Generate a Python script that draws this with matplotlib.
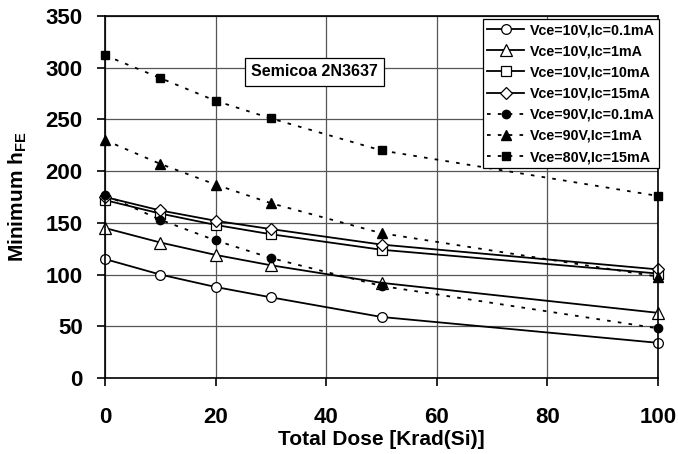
import matplotlib
matplotlib.use("Agg")
import matplotlib.pyplot as plt

plt.rcParams['font.family'] = ['Liberation Sans', 'DejaVu Sans']
plt.rcParams['mathtext.fontset'] = 'custom'
plt.rcParams['mathtext.bf'] = 'Liberation Sans:bold'
plt.rcParams['mathtext.rm'] = 'Liberation Sans:bold'

dose = [0, 10, 20, 30, 50, 100]
labels = ["Vce=10V,Ic=0.1mA", "Vce=10V,Ic=1mA", "Vce=10V,Ic=10mA", "Vce=10V,Ic=15mA",
          "Vce=90V,Ic=0.1mA", "Vce=90V,Ic=1mA", "Vce=80V,Ic=15mA"]
v10_01 = [115, 100, 88, 78, 59, 34]
v10_1 = [145, 131, 119, 109, 92, 63]
v10_10 = [172, 159, 148, 139, 124, 101]
v10_15 = [175, 162, 152, 144, 129, 105]
v90_01 = [177, 153, 133, 116, 89, 48]
v90_1 = [230, 207, 187, 169, 140, 98]
v80_15 = [312, 290, 268, 251, 220, 176]
series = [v10_01, v10_1, v10_10, v10_15, v90_01, v90_1, v80_15]
markers = ['o', '^', 's', 'D', 'o', '^', 's']
filled = [False, False, False, False, True, True, True]
sizes = [7, 8, 7, 6, 6, 7, 6]

fig = plt.figure(figsize=(6.78, 4.54), dpi=100)
ax = fig.add_axes([105 / 678, 1 - 378 / 454, 553 / 678, 362 / 454])

for y, lab, m, f, s in zip(series, labels, markers, filled, sizes):
    if f:
        ax.plot(dose, y, color='black', linestyle=(0, (2, 4)), linewidth=1.3,
                marker=m, markersize=s, markerfacecolor='black', markeredgecolor='black',
                label=lab, clip_on=False)
    else:
        ax.plot(dose, y, color='black', linestyle='-', linewidth=1.3,
                marker=m, markersize=s, markerfacecolor='white', markeredgecolor='black',
                markeredgewidth=0.9, label=lab, clip_on=False)

ax.set_xlim(0, 100)
ax.set_ylim(0, 350)
ax.set_xticks([0, 20, 40, 60, 80, 100])
ax.set_yticks([0, 50, 100, 150, 200, 250, 300, 350])
ax.grid(True, color='#555555', linewidth=0.9)
ax.set_axisbelow(True)
for sp in ax.spines.values():
    sp.set_linewidth(1.2)
ax.tick_params(direction='out', length=6, width=1.2, labelsize=16)
for t in ax.get_xticklabels() + ax.get_yticklabels():
    t.set_fontweight('bold')
ax.tick_params(axis='x', pad=15)
ax.tick_params(axis='y', pad=10)
ax.set_xlabel("Total Dose [Krad(Si)]", fontsize=15, fontweight='bold', labelpad=1)
ax.set_ylabel(r"Minimum h$_{\mathbf{FE}}$", fontsize=15, fontweight='bold', labelpad=12)

ax.text(37.9, 296, "Semicoa 2N3637", ha='center', va='center', fontsize=11.5, fontweight='bold',
        bbox=dict(boxstyle='square,pad=0.4', facecolor='white', edgecolor='black', linewidth=0.9))

leg = ax.legend(loc='upper right', bbox_to_anchor=(1.002, 0.992), fontsize=10.3, frameon=True,
                fancybox=False, edgecolor='black', framealpha=1, handlelength=2.6,
                borderpad=0.3, labelspacing=0.5, handletextpad=0.4, borderaxespad=0.0)
leg.get_frame().set_linewidth(0.9)
for t in leg.get_texts():
    t.set_fontweight('bold')

fig.savefig("out.png", dpi=100)
